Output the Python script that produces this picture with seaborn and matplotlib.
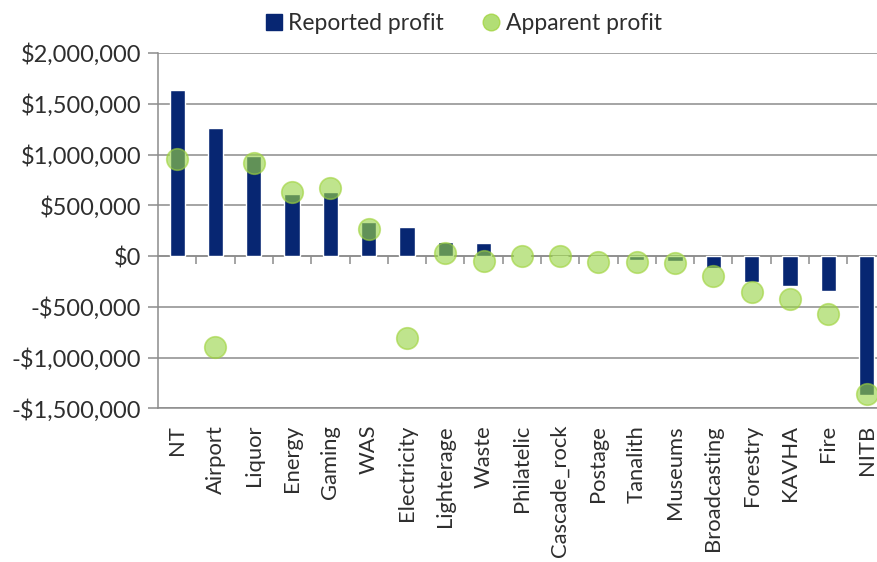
import matplotlib
matplotlib.use("Agg")
import matplotlib.pyplot as plt
from matplotlib.lines import Line2D
from matplotlib.ticker import FuncFormatter, MultipleLocator, FixedLocator
import seaborn as sns
import pandas as pd

categories = ["NT", "Airport", "Liquor", "Energy", "Gaming", "WAS", "Electricity",
              "Lighterage", "Waste", "Philatelic", "Cascade_rock", "Postage",
              "Tanalith", "Museums", "Broadcasting", "Forestry", "KAVHA", "Fire", "NITB"]
reported_profit = [1640000, 1260000, 990000, 610000, 630000, 340000, 283000,
                   135000, 125000, 10000, 0, -5000, -40000, -45000, -120000,
                   -260000, -293000, -348000, -1370000]
apparent_profit = [955000, -900000, 918000, 635000, 668000, 267000, -806000,
                   27000, -46000, 3000, 5000, -56000, -56000, -69000, -194000,
                   -352000, -424000, -573000, -1355000]

df = pd.DataFrame({"category": categories,
                   "reported": reported_profit,
                   "apparent": apparent_profit})

NAVY = "#072672"
GREEN_FILL = (0.60, 0.83, 0.28)
GREEN_EDGE = "#9fd33a"
GRID = "#8c8c8c"
TEXT = "#2e2e2e"

sns.set_theme(style="white")
plt.rcParams["font.family"] = ["Lato", "DejaVu Sans"]

fig = plt.figure(figsize=(8.78, 5.62), dpi=100)
ax = fig.add_axes([0.18, 0.2735, 0.82, 0.6322])

sns.barplot(data=df, x="category", y="reported", color=NAVY, width=0.4,
            errorbar=None, saturation=1, ax=ax, zorder=2)
sns.stripplot(data=df, x="category", y="apparent", jitter=False, size=15.5,
              color=GREEN_FILL, alpha=0.62, edgecolor=GREEN_EDGE, linewidth=1.2,
              ax=ax, zorder=3)

ax.set_xlim(-0.5, 18.3)
ax.set_ylim(-1500000, 2000000)
ax.yaxis.set_major_locator(MultipleLocator(500000))


def money(v, _pos):
    v = int(round(v))
    if v < 0:
        return "-${:,}".format(-v)
    return "${:,}".format(v)


ax.yaxis.set_major_formatter(FuncFormatter(money))
ax.grid(axis="y", color=GRID, linewidth=1.1)
ax.grid(axis="x", visible=False)
ax.set_axisbelow(True)

for side in ["top", "right"]:
    ax.spines[side].set_visible(False)
ax.spines["left"].set_color(GRID)
ax.spines["left"].set_linewidth(1.1)
ax.spines["bottom"].set_color(GRID)
ax.spines["bottom"].set_linewidth(1.1)

ax.tick_params(axis="y", left=True, length=7, width=1.1, color=GRID,
               labelsize=17, labelcolor=TEXT, pad=5)
ax.tick_params(axis="x", bottom=False, labelsize=15.8, labelcolor=TEXT, pad=6)
for lab in ax.get_xticklabels():
    lab.set_rotation(90)
    lab.set_va("top")
    lab.set_ha("center")
ax.set_xlabel("")
ax.set_ylabel("")

# category axis with boundary ticks along the zero line
zero_frac = 1500000 / 3500000
cat_axis = ax.secondary_xaxis(zero_frac)
cat_axis.xaxis.set_major_locator(FixedLocator([i + 0.5 for i in range(len(categories) - 1)]))
cat_axis.tick_params(axis="x", length=6, width=1.1, color=GRID, labelbottom=False,
                     direction="out")
cat_axis.spines["bottom"].set_color(GRID)
cat_axis.spines["bottom"].set_linewidth(1.1)

handles = [
    Line2D([], [], linestyle="none", marker="s", markersize=11,
           markerfacecolor=NAVY, markeredgecolor=NAVY),
    Line2D([], [], linestyle="none", marker="o", markersize=12,
           markerfacecolor=GREEN_FILL, markeredgecolor=GREEN_EDGE, alpha=0.75),
]
fig.legend(handles, ["Reported profit", "Apparent profit"], loc="center",
           bbox_to_anchor=(0.527, 0.958), ncol=2, frameon=False, fontsize=16.5,
           labelcolor=TEXT, handletextpad=0.2, columnspacing=1.6,
           handlelength=0.9)

fig.savefig("out.png", dpi=100, facecolor="white")
